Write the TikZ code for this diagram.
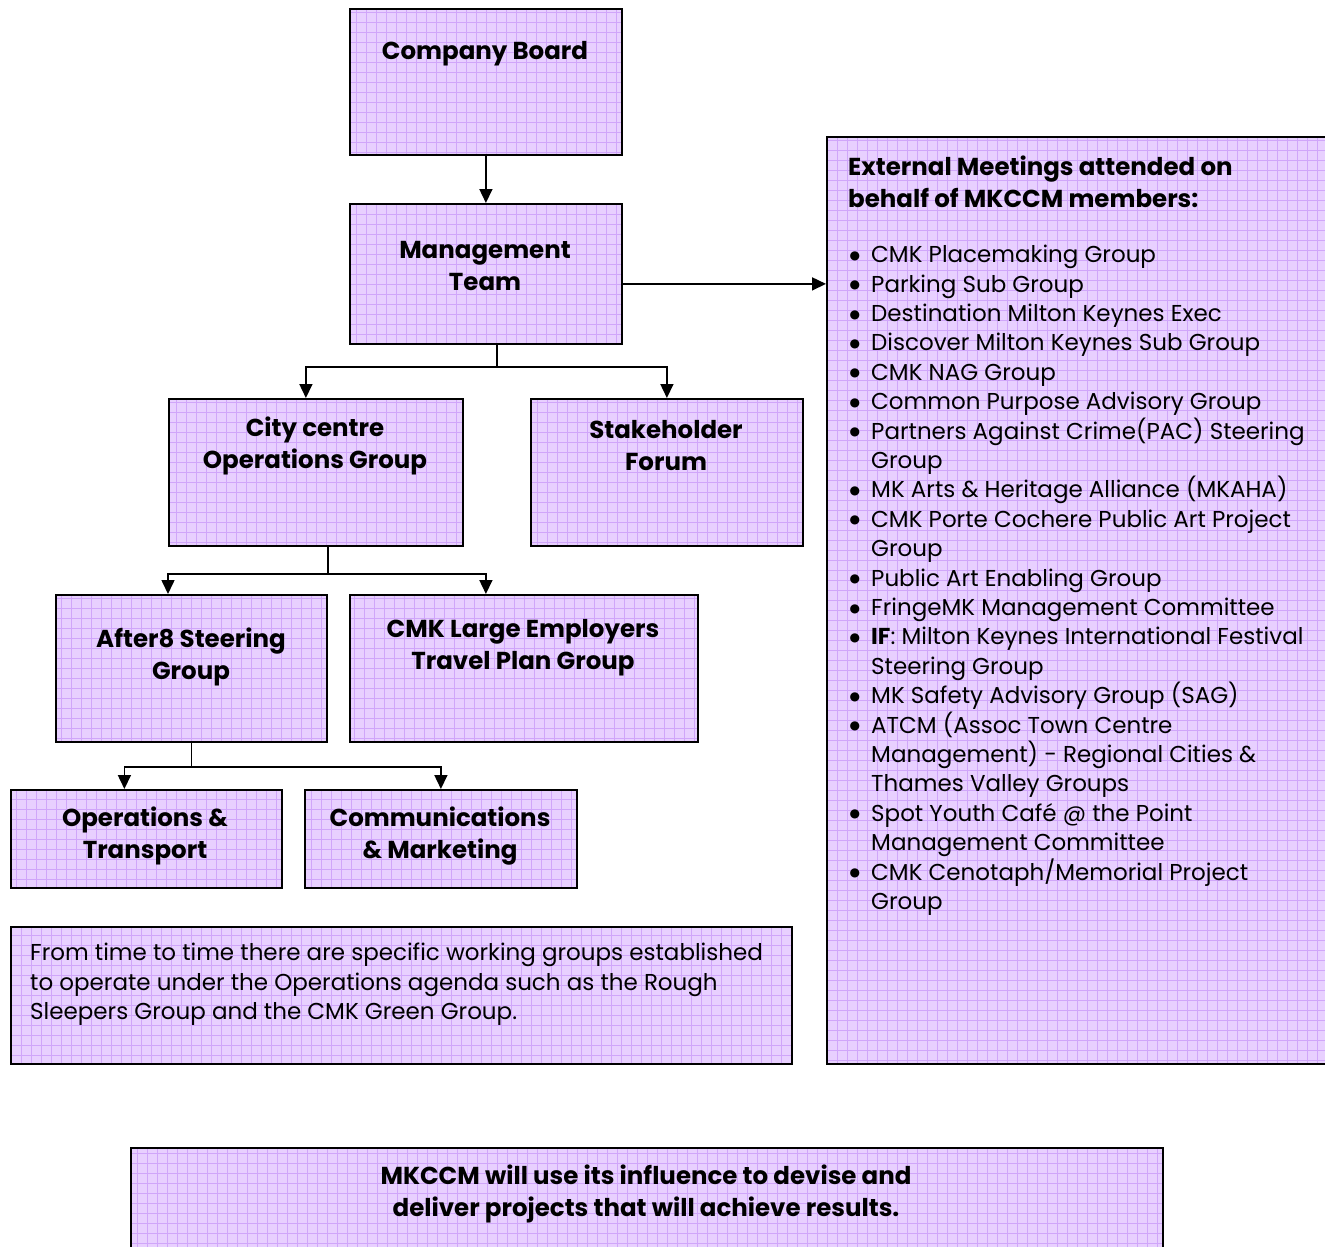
\documentclass[tikz,border=0pt]{standalone}
\usepackage{fontspec}
\setmainfont{Poppins}
\newfontfamily\dejavu{DejaVu Sans}
\usetikzlibrary{arrows.meta,calc}
\definecolor{boxfill}{HTML}{E8D0FF}
\definecolor{gridline}{HTML}{D0A6FA}
\tikzset{
 box/.style={draw=black, line width=1.8pt, fill=boxfill, inner sep=0pt, anchor=north west,
   path picture={\draw[gridline, line width=0.6pt, step=10pt]
     ($(path picture bounding box.south west)+(-12pt,-12pt)$) grid
     ($(path picture bounding box.north east)+(12pt,12pt)$);}},
 conn/.style={line width=1.6pt},
 arr/.style={conn, -{Triangle[length=14pt,width=13pt]}},
 lbl/.style={font=\bfseries\fontsize{24.5}{32}\selectfont, align=center, inner sep=0pt},
 body/.style={font=\fontsize{23}{29.4}\selectfont, align=left, inner sep=0pt, anchor=north west},
}
\newcommand{\bul}{\makebox[23pt][l]{\hspace{1.5pt}\raisebox{3.5pt}{\dejavu\fontsize{12}{0}\selectfont ●}}}
\newcommand{\cont}{\hspace*{23pt}}
\begin{document}
\begin{tikzpicture}[x=1pt,y=-1pt]
\clip (0,0) rectangle (1325,1247);
\fill[white] (0,0) rectangle (1325,1247);
% boxes
\node[box, minimum width=272pt, minimum height=146pt] (cb) at (349,8) {};
\node[box, minimum width=272pt, minimum height=140pt] (mt) at (349,203) {};
\node[box, minimum width=520pt, minimum height=927pt] (ext) at (826,136) {};
\node[box, minimum width=294pt, minimum height=147pt] (cc) at (168,398) {};
\node[box, minimum width=272pt, minimum height=147pt] (sf) at (530,398) {};
\node[box, minimum width=271pt, minimum height=147pt] (af) at (55,594) {};
\node[box, minimum width=348pt, minimum height=147pt] (le) at (349,594) {};
\node[box, minimum width=271pt, minimum height=98pt] (ot) at (10,789) {};
\node[box, minimum width=272pt, minimum height=98pt] (cm) at (304,789) {};
\node[box, minimum width=781pt, minimum height=137pt] (nt) at (10,926) {};
\node[box, minimum width=1032pt, minimum height=130pt] (bt) at (130,1147) {};
% labels
\node[lbl] (cbt) at (485,54) {Company Board};
\node[lbl] (mtt) at (485,266) {Management\\Team};
\node[lbl] (cct) at (315,446) {City centre\\Operations Group};
\node[lbl] (sft) at (666,446) {Stakeholder\\Forum};
\node[lbl] (aft) at (191,657) {After8 Steering\\Group};
\node[lbl] (let) at (523,648) {CMK Large Employers\\Travel Plan Group};
\node[lbl] (ott) at (145,836) {Operations \&\\Transport};
\node[lbl] (cmt) at (440,836) {Communications\\\& Marketing};
\node[lbl] (btt) at (646,1194) {MKCCM will use its influence to devise and\\deliver projects that will achieve results.};
\node[lbl, align=left, anchor=north west] (exth) at (848,156) {External Meetings attended on\\behalf of MKCCM members:};
\node[body] (extl) at (848,245) {\bul CMK Placemaking Group\\
\bul Parking Sub Group\\
\bul Destination Milton Keynes Exec\\
\bul Discover Milton Keynes Sub Group\\
\bul CMK NAG Group\\
\bul Common Purpose Advisory Group\\
\bul Partners Against Crime(PAC) Steering\\
\cont Group\\
\bul MK Arts \& Heritage Alliance (MKAHA)\\
\bul CMK Porte Cochere Public Art Project\\
\cont Group\\
\bul Public Art Enabling Group\\
\bul FringeMK Management Committee\\
\bul \textbf{IF}: Milton Keynes International Festival\\
\cont Steering Group\\
\bul MK Safety Advisory Group (SAG)\\
\bul ATCM (Assoc Town Centre\\
\cont Management) - Regional Cities \&\\
\cont Thames Valley Groups\\
\bul Spot Youth Café @ the Point\\
\cont Management Committee\\
\bul CMK Cenotaph/Memorial Project\\
\cont Group};
\node[body] (ntt) at (30,943) {From time to time there are specific working groups established\\
to operate under the Operations agenda such as the Rough\\
Sleepers Group and the CMK Green Group.};
% connectors
\draw[arr] (cb.south) -- (mt.north);
\draw[arr] ([yshift=-10pt]mt.east) -- ([yshift=-10pt]mt.east -| ext.west);
\draw[conn] ([xshift=11pt]mt.south) -- ++(0,22) coordinate (j1);
\draw[arr] (j1) -| ([xshift=-10pt]cc.north);
\draw[arr] (j1) -| (sf.north);
\draw[conn] ([xshift=12pt]cc.south) -- ++(0,27) coordinate (j2);
\draw[arr] (j2) -| (af.north -| cc.west);
\draw[arr] (j2) -| ([xshift=-38pt]le.north);
\draw[conn] (af.south) -- ++(0,24) coordinate (j3);
\draw[arr] (j3) -| ([xshift=-22pt]ot.north);
\draw[arr] (j3) -| (cm.north);
\end{tikzpicture}
\end{document}
